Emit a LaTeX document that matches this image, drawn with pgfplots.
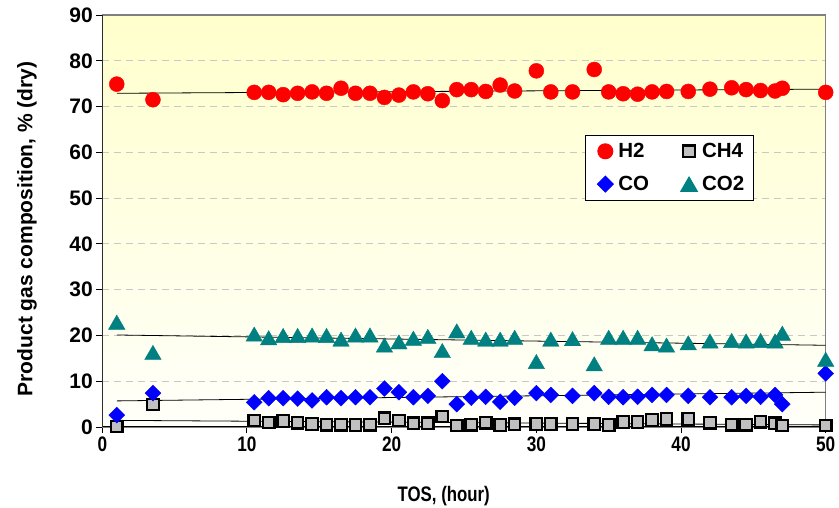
\documentclass[border=0pt]{standalone}
\usepackage{fontspec}
\setmainfont{Liberation Sans}
\usepackage{graphicx}
\usepackage{pgfplots}
\pgfplotsset{compat=1.18}
\usepackage{pgfplotstable}

\definecolor{h2red}{RGB}{255,0,0}
\definecolor{coblue}{RGB}{0,0,255}
\definecolor{coteal}{RGB}{0,128,128}
\definecolor{chgray}{RGB}{192,192,192}
\definecolor{gridgray}{RGB}{200,200,200}
\definecolor{bordergray}{RGB}{128,128,128}
\definecolor{bgtop}{RGB}{255,255,204}
\definecolor{bgbot}{RGB}{255,255,250}

\pgfplotstableread{
x y
1 74.9
3.5 71.5
10.5 73.1
11.5 73.1
12.5 72.6
13.5 72.9
14.5 73.2
15.5 72.9
16.5 74.0
17.5 72.9
18.5 72.9
19.5 72.0
20.5 72.5
21.5 73.2
22.5 72.8
23.5 71.3
24.5 73.7
25.5 73.7
26.5 73.3
27.5 74.7
28.5 73.4
30 77.8
31 73.2
32.5 73.2
34 78.1
35 73.2
36 72.8
37 72.7
38 73.2
39 73.3
40.5 73.3
42 73.8
43.5 74.1
44.5 73.7
45.5 73.5
46.5 73.4
47 74.0
50 73.1
}\hii

\pgfplotstableread{
x y
1 0.1
3.5 4.9
10.5 1.4
11.5 1.0
12.5 1.3
13.5 0.95
14.5 0.65
15.5 0.5
16.5 0.5
17.5 0.45
18.5 0.5
19.5 1.9
20.5 1.4
21.5 0.8
22.5 0.8
23.5 2.3
24.5 0.3
25.5 0.5
26.5 0.95
27.5 0.45
28.5 0.6
30 0.65
31 0.65
32.5 0.65
34 0.65
35 0.45
36 1.1
37 1.1
38 1.5
39 1.75
40.5 1.75
42 0.95
43.5 0.5
44.5 0.5
45.5 1.15
46.5 0.8
47 0.3
50 0.3
}\chfour

\pgfplotstableread{
x y
1 2.6
3.5 7.4
10.5 5.4
11.5 6.3
12.5 6.3
13.5 6.2
14.5 5.8
15.5 6.5
16.5 6.3
17.5 6.5
18.5 6.5
19.5 8.4
20.5 7.6
21.5 6.5
22.5 6.8
23.5 10.0
24.5 5.0
25.5 6.4
26.5 6.6
27.5 5.5
28.5 6.4
30 7.4
31 7.0
32.5 6.8
34 7.4
35 6.6
36 6.5
37 6.6
38 7.0
39 7.0
40.5 6.8
42 6.5
43.5 6.5
44.5 6.8
45.5 6.6
46.5 7.0
47 5.0
50 11.7
}\co

\pgfplotstableread{
x y
1 22.9
3.5 16.3
10.5 20.3
11.5 19.5
12.5 20.0
13.5 20.0
14.5 20.1
15.5 20.0
16.5 19.2
17.5 20.1
18.5 20.1
19.5 17.9
20.5 18.6
21.5 19.4
22.5 19.8
23.5 16.7
24.5 21.0
25.5 19.6
26.5 19.2
27.5 19.2
28.5 19.6
30 14.3
31 19.2
32.5 19.3
34 13.8
35 19.6
36 19.6
37 19.6
38 18.2
39 17.9
40.5 18.4
42 18.8
43.5 18.9
44.5 18.8
45.5 18.9
46.5 18.8
47 20.5
50 14.8
}\cotwo

\begin{document}
\begin{tikzpicture}
\useasboundingbox (0,0) rectangle (839bp,508bp);
\begin{axis}[
  at={(102.3bp,81bp)}, anchor=south west,
  width=723.4bp, height=412bp, scale only axis,
  xmin=0, xmax=50, ymin=0, ymax=90,
  xtick={0,10,...,50}, ytick={0,10,...,90},
  axis background/.style={top color=bgtop, bottom color=bgbot},
  ymajorgrids,
  major grid style={gridgray, dash pattern=on 7bp off 5bp, line width=1bp},
  axis line style={bordergray, line width=1.5bp},
  tick style={black, line width=1bp},
  tick align=outside, major tick length=6bp,
  xtick pos=bottom, ytick pos=left,
  /pgf/number format/assume math mode=true,
  tick label style={font=\fontsize{21bp}{25bp}\selectfont\bfseries},
  label style={font=\fontsize{21bp}{25bp}\selectfont\bfseries},
  xticklabel={\scalebox{0.82}[1]{\pgfmathprintnumber{\tick}}},
  xlabel={\scalebox{0.8}[1]{TOS, (hour)}},
  ylabel={Product gas composition, \% (dry)},
  xlabel style={at={(axis description cs:0.472,-0.181)}, anchor=base},
  ylabel style={at={(axis description cs:-0.104,0.481)}, anchor=center},
  legend columns=2,
  legend style={at={(axis description cs:0.667,0.709)}, anchor=north west,
    draw=black, line width=1bp, fill=white,
    font=\fontsize{20.5bp}{24bp}\selectfont\bfseries,
    inner xsep=9bp, inner ysep=8bp,
    row sep=17bp,
    nodes={inner sep=0bp},
    /tikz/every odd column/.append style={column sep=4bp},
    /tikz/every even column/.append style={column sep=29bp}},
  legend cell align=left,
  legend image code/.code={\path[draw=none] (-11bp,0bp) -- (9bp,0bp); \draw[#1, only marks] plot coordinates {(0bp,0bp)};},
]
\draw[black, line width=1.5bp] (rel axis cs:0,1) -- (rel axis cs:0,0) -- (rel axis cs:1,0);
\addplot[only marks, mark=*, mark size=7.5bp, mark options={draw=h2red, fill=h2red}] table {\hii};
\addlegendentry{H2}
\addplot[only marks, mark=square*, mark size=5.75bp, mark options={draw=black, fill=chgray, line width=2.2bp}] table {\chfour};
\addlegendentry{CH4}
\addplot[only marks, mark=square*, mark size=5.6bp, mark options={draw=coblue, fill=coblue, rotate=45}] table {\co};
\addlegendentry{CO}
\addplot[only marks, mark=triangle*, mark size=9.5bp, mark options={draw=coteal, fill=coteal, yshift=-2.4bp}] table {\cotwo};
\addlegendentry{CO2}
\addplot[black, line width=0.8bp, no marks, forget plot] coordinates {(1,72.9) (50,73.8)};
\addplot[black, line width=0.8bp, no marks, forget plot] coordinates {(1,20.1) (50,17.85)};
\addplot[black, line width=0.8bp, no marks, forget plot] coordinates {(1,5.7) (50,7.6)};
\addplot[black, line width=0.8bp, no marks, forget plot] coordinates {(1,1.45) (50,0.45)};
\end{axis}
\end{tikzpicture}
\end{document}
